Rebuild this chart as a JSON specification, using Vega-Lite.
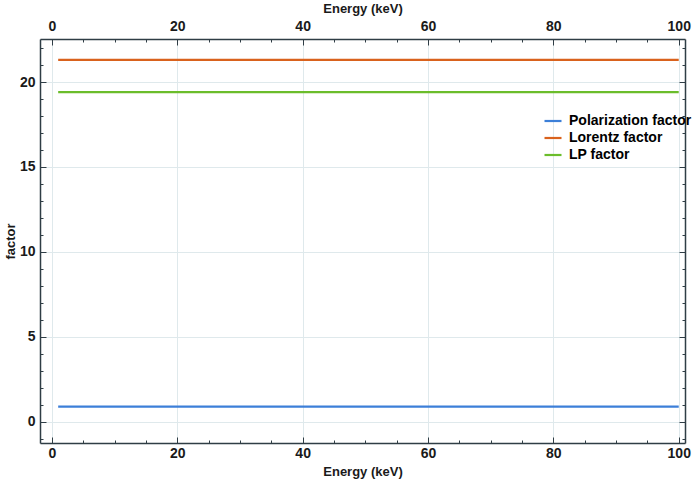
{
  "$schema": "https://vega.github.io/schema/vega-lite/v6.json",
  "width": 645,
  "height": 404,
  "autosize": {"type": "none"},
  "padding": {"left": 40, "top": 39, "right": 7, "bottom": 40},
  "background": "white",
  "config": {
    "view": {"stroke": null},
    "font": "Liberation Sans",
    "axis": {
      "labelFont": "Liberation Sans",
      "labelFontWeight": "bold",
      "labelFontSize": 14,
      "labelColor": "#1a1a1a",
      "titleFont": "Liberation Sans",
      "titleFontWeight": "bold",
      "titleFontSize": 13,
      "titleColor": "#1a1a1a",
      "domainColor": "#2f3d45",
      "domainWidth": 1.5,
      "tickColor": "#2f3d45",
      "tickWidth": 1,
      "gridColor": "#dfe9ec",
      "gridWidth": 1
    }
  },
  "data": {
    "values": [
      {"energy": 1, "factor": 0.9, "series": "Polarization factor"},
      {"energy": 100, "factor": 0.9, "series": "Polarization factor"},
      {"energy": 1, "factor": 21.3, "series": "Lorentz factor"},
      {"energy": 100, "factor": 21.3, "series": "Lorentz factor"},
      {"energy": 1, "factor": 19.4, "series": "LP factor"},
      {"energy": 100, "factor": 19.4, "series": "LP factor"}
    ]
  },
  "resolve": {"axis": {"x": "independent", "y": "independent"}},
  "layer": [
    {
      "mark": {"type": "line", "strokeWidth": 2.2},
      "encoding": {
        "x": {
          "field": "energy", "type": "quantitative",
          "scale": {"domain": [-1.9, 101], "nice": false, "zero": false},
          "axis": {"orient": "bottom", "values": [0, 20, 40, 60, 80, 100], "grid": true, "tickSize": -6, "labelPadding": 9, "title": "Energy (keV)", "titlePadding": 5}
        },
        "y": {
          "field": "factor", "type": "quantitative",
          "scale": {"domain": [-1.24, 22.53], "nice": false, "zero": false},
          "axis": {"orient": "left", "values": [0, 5, 10, 15, 20], "grid": true, "tickSize": -6, "labelPadding": 11, "title": "factor", "titlePadding": 2}
        },
        "color": {
          "field": "series", "type": "nominal",
          "scale": {"domain": ["Polarization factor", "Lorentz factor", "LP factor"], "range": ["#3c7fd8", "#d9621d", "#6bbd2b"]},
          "legend": {
            "title": null,
            "orient": "none",
            "legendX": 503,
            "legendY": 72,
            "symbolType": "stroke",
            "symbolStrokeWidth": 2.2,
            "symbolSize": 289,
            "labelFont": "Liberation Sans",
            "labelFontWeight": "bold",
            "labelFontSize": 14,
            "labelColor": "#000000",
            "labelOffset": 6,
            "rowPadding": 0,
            "padding": 0,
            "labelLimit": 300
          }
        }
      }
    },
    {
      "mark": {"type": "line", "strokeOpacity": 0},
      "encoding": {
        "x": {
          "field": "energy", "type": "quantitative",
          "axis": {"orient": "bottom", "values": [5, 10, 15, 25, 30, 35, 45, 50, 55, 65, 70, 75, 85, 90, 95], "labels": false, "domain": false, "grid": false, "tickSize": -3, "title": null}
        },
        "y": {
          "field": "factor", "type": "quantitative",
          "axis": {"orient": "left", "values": [-1, 1, 2, 3, 4, 6, 7, 8, 9, 11, 12, 13, 14, 16, 17, 18, 19, 21, 22], "labels": false, "domain": false, "grid": false, "tickSize": -3, "title": null}
        }
      }
    },
    {
      "mark": {"type": "line", "strokeOpacity": 0},
      "encoding": {
        "x": {
          "field": "energy", "type": "quantitative",
          "axis": {"orient": "top", "values": [0, 20, 40, 60, 80, 100], "grid": false, "tickSize": -6, "labelPadding": 12, "title": "Energy (keV)", "titlePadding": 4}
        },
        "y": {
          "field": "factor", "type": "quantitative",
          "axis": {"orient": "right", "values": [0, 5, 10, 15, 20], "labels": false, "grid": false, "tickSize": -6, "title": null}
        }
      }
    },
    {
      "mark": {"type": "line", "strokeOpacity": 0},
      "encoding": {
        "x": {
          "field": "energy", "type": "quantitative",
          "axis": {"orient": "top", "values": [5, 10, 15, 25, 30, 35, 45, 50, 55, 65, 70, 75, 85, 90, 95], "labels": false, "domain": false, "grid": false, "tickSize": -3, "title": null}
        },
        "y": {
          "field": "factor", "type": "quantitative",
          "axis": {"orient": "right", "values": [-1, 1, 2, 3, 4, 6, 7, 8, 9, 11, 12, 13, 14, 16, 17, 18, 19, 21, 22], "labels": false, "domain": false, "grid": false, "tickSize": -3, "title": null}
        }
      }
    }
  ]
}
